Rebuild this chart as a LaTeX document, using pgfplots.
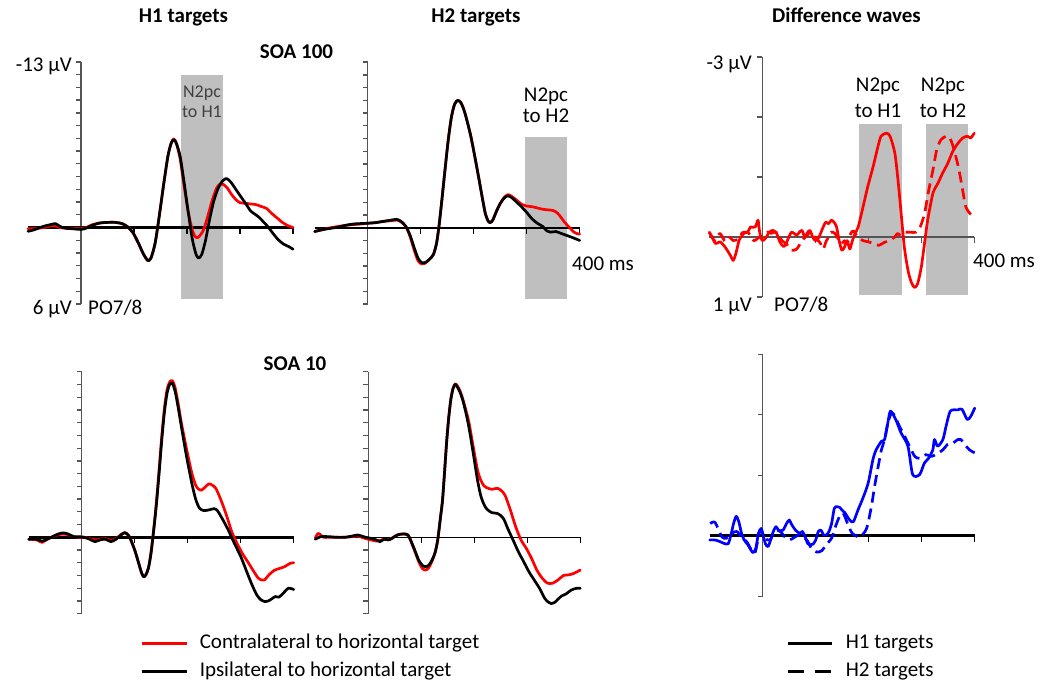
\documentclass[border=0pt]{standalone}
\usepackage{fontspec}
\setmainfont{Carlito}
\usepackage{pgfplots}
\pgfplotsset{compat=1.18}
\definecolor{shadegray}{RGB}{191,191,191}
\definecolor{axgray}{RGB}{85,85,85}
\definecolor{lblgray}{RGB}{64,64,64}
\pgfplotsset{
  erp/.style={hide axis, scale only axis, clip=false, xmin=-100, xmax=400, width=265bp, y dir=reverse, anchor=origin},
  big/.style={ymin=-13, ymax=6, height=242bp},
  diff/.style={ymin=-3, ymax=1, height=240bp},
  wave/.style={line width=2.7bp, smooth, tension=0.45, line join=round, line cap=round},
  dwave/.style={line width=2.7bp, smooth, tension=0.45, line join=round, dash pattern=on 11bp off 6bp},
}
\newcommand{\bigaxis}[1]{%
  \draw[axgray, line width=1.4bp] (axis cs:0,-13) -- (axis cs:0,6);
  \pgfplotsinvokeforeach{-13,...,6}{\draw[axgray, line width=1.3bp] (axis cs:0,##1) -- ++(-5bp,0bp);}
  \draw[black, line width=#1] (axis cs:-100,0) -- (axis cs:400,0);
  \pgfplotsinvokeforeach{100,200,300,400}{\draw[black, line width=1.3bp] (axis cs:##1,0) -- ++(0bp,-6bp);}
}
\newcommand{\diffaxis}[2]{%
  \draw[axgray, line width=1.4bp] (axis cs:0,-3) -- (axis cs:0,1);
  \pgfplotsinvokeforeach{-3,...,1}{\draw[axgray, line width=1.3bp] (axis cs:0,##1) -- ++(-5bp,0bp);}
  \draw[#2, line width=#1] (axis cs:-100,0) -- (axis cs:400,0);
  \pgfplotsinvokeforeach{100,200,300,400}{\draw[#2, line width=1.3bp] (axis cs:##1,0) -- ++(0bp,-6bp);}
}
\begin{document}
\fontsize{21bp}{25bp}\selectfont
\begin{tikzpicture}
\path[use as bounding box] (0,0) rectangle (1042bp,-683bp);

% ---------- Panel 1: H1 targets, SOA 100
\begin{axis}[erp, big, at={(81bp,-227.5bp)}]
\fill[shadegray] (axis cs:188,-11.97) rectangle (axis cs:268,5.6);
\bigaxis{2.6bp}
\addplot[red, wave] coordinates {(-100,0.1)(-90,0.1)(-80,0.05)(-70,0.0)(-60,-0.1)(-50,-0.15)(-40,0.0)(-30,0.05)(-15,0.05)(0,0.1)(10,0.0)(20,-0.2)(35,-0.35)(50,-0.4)(65,-0.4)(78,-0.3)(88,-0.05)(98,0.4)(108,1.2)(118,2.1)(126,2.55)(132,2.4)(140,1.2)(148,-1.0)(156,-3.4)(164,-5.6)(170,-6.6)(175,-6.95)(180,-6.6)(187,-5.4)(194,-3.4)(202,-1.3)(210,0.2)(216,0.75)(220,0.8)(226,0.55)(232,0.1)(240,-1.0)(248,-2.2)(256,-3.1)(262,-3.4)(268,-3.4)(276,-3.1)(284,-2.6)(292,-2.2)(300,-1.95)(310,-1.9)(320,-1.85)(330,-1.8)(340,-1.65)(350,-1.5)(360,-1.1)(370,-0.75)(380,-0.4)(390,-0.15)(400,0.0)};
\addplot[black, wave] coordinates {(-100,0.3)(-90,0.2)(-80,0.05)(-70,-0.1)(-55,-0.25)(-48,-0.3)(-40,-0.1)(-30,0.05)(-15,0.1)(0,0.15)(10,0.05)(20,-0.15)(35,-0.35)(50,-0.4)(65,-0.4)(78,-0.3)(88,-0.05)(98,0.4)(108,1.2)(118,2.1)(126,2.6)(132,2.4)(140,1.2)(148,-1.0)(156,-3.4)(164,-5.6)(170,-6.6)(175,-6.9)(180,-6.6)(187,-5.6)(194,-3.7)(202,-1.3)(210,0.9)(217,2.1)(222,2.4)(228,2.1)(235,1.0)(242,-0.5)(250,-2.0)(258,-3.0)(266,-3.6)(274,-3.85)(282,-3.6)(292,-3.0)(302,-2.4)(312,-1.8)(320,-1.3)(328,-1.05)(336,-0.8)(344,-0.45)(352,-0.1)(362,0.45)(372,0.95)(382,1.3)(392,1.5)(400,1.7)};
\end{axis}

% ---------- Panel 2: H2 targets, SOA 100
\begin{axis}[erp, big, at={(367.7bp,-227.7bp)}]
\fill[shadegray] (axis cs:296,-7.14) rectangle (axis cs:376,5.6);
\bigaxis{2.2bp}
\addplot[red, wave] coordinates {(-100,0.3)(-85,0.15)(-70,0.0)(-55,-0.1)(-40,-0.2)(-25,-0.25)(-10,-0.3)(0,-0.35)(15,-0.4)(30,-0.5)(45,-0.55)(55,-0.6)(63,-0.45)(72,-0.1)(80,0.7)(88,1.8)(95,2.6)(102,2.85)(108,2.8)(116,2.5)(124,2.1)(130,1.2)(135,-0.3)(140,-2.2)(146,-4.6)(152,-6.9)(158,-8.7)(164,-9.7)(170,-10.0)(176,-9.8)(182,-9.2)(188,-8.3)(195,-7.1)(202,-5.6)(210,-3.8)(216,-2.4)(222,-1.1)(227,-0.55)(231,-0.4)(236,-0.6)(242,-1.2)(250,-1.9)(258,-2.4)(265,-2.6)(272,-2.45)(280,-2.2)(290,-1.85)(300,-1.7)(310,-1.65)(320,-1.55)(330,-1.45)(340,-1.4)(350,-1.35)(358,-1.15)(365,-0.8)(372,-0.4)(380,-0.05)(388,0.3)(394,0.45)(400,0.5)};
\addplot[black, wave] coordinates {(-100,0.3)(-85,0.15)(-70,0.05)(-55,-0.05)(-40,-0.2)(-25,-0.3)(-10,-0.33)(0,-0.35)(15,-0.4)(30,-0.5)(45,-0.6)(55,-0.65)(63,-0.5)(72,-0.1)(80,0.6)(88,1.6)(95,2.4)(102,2.75)(108,2.75)(116,2.5)(124,2.1)(130,1.2)(135,-0.3)(140,-2.2)(146,-4.6)(152,-6.9)(158,-8.7)(164,-9.7)(170,-10.0)(176,-9.8)(182,-9.2)(188,-8.3)(195,-7.1)(202,-5.6)(210,-3.8)(216,-2.4)(222,-1.1)(227,-0.55)(231,-0.4)(236,-0.6)(242,-1.2)(250,-1.9)(258,-2.35)(265,-2.5)(272,-2.35)(280,-2.05)(290,-1.65)(300,-1.2)(310,-0.7)(320,-0.35)(330,-0.1)(338,0.25)(345,0.35)(355,0.3)(365,0.45)(375,0.6)(385,0.75)(400,1.0)};
\end{axis}

% ---------- Panel 3: Difference waves, SOA 100
\begin{axis}[erp, diff, at={(762.3bp,-237bp)}]
\fill[shadegray] (axis cs:183,-1.88) rectangle (axis cs:264,0.97);
\fill[shadegray] (axis cs:308,-1.88) rectangle (axis cs:388,0.97);
\diffaxis{1.4bp}{axgray}
\addplot[red, wave] coordinates {(-100,-0.08)(-95,0)(-88,0.11)(-80,0.08)(-70,0.17)(-60,0.31)(-55,0.39)(-50,0.28)(-44,0.06)(-40,0)(-35,-0.06)(-28,-0.08)(-22,-0.17)(-18,-0.16)(-13,-0.17)(-8,-0.28)(-5,-0.08)(0,0.06)(7,0.01)(13,-0.08)(20,-0.11)(27,-0.06)(33,0.08)(40,0.16)(45,0.11)(50,0)(55,-0.08)(60,-0.06)(65,-0.03)(70,-0.08)(75,-0.11)(80,0)(85,-0.07)(90,-0.11)(95,0)(100,0.06)(105,0.03)(110,-0.06)(115,-0.17)(120,-0.25)(125,-0.22)(130,-0.28)(135,-0.25)(140,-0.17)(145,0.06)(150,0.22)(155,0.17)(160,0.06)(165,0.2)(170,0.06)(175,-0.06)(181,-0.17)(190,-0.5)(199,-0.84)(209,-1.17)(218,-1.5)(224,-1.68)(234,-1.73)(241,-1.68)(250,-1.4)(256,-0.95)(262,-0.39)(268,0.17)(275,0.56)(281,0.75)(287,0.84)(293,0.78)(300,0.5)(306,0.11)(312,-0.28)(322,-0.73)(331,-0.89)(340,-1.06)(350,-1.23)(359,-1.42)(369,-1.56)(378,-1.65)(387,-1.68)(393,-1.65)(400,-1.73)};
\addplot[red, dwave] coordinates {(-100,-0.08)(-90,0.06)(-80,-0.06)(-70,0.08)(-62,0)(-55,0.06)(-45,0.03)(-38,-0.07)(-30,-0.08)(-25,-0.06)(-20,0.03)(-15,0.06)(-5,0)(0,-0.03)(10,-0.08)(17,-0.06)(22,-0.08)(30,-0.06)(37,0.06)(45,0.11)(55,0.22)(65,0.2)(75,0.06)(85,-0.03)(90,-0.08)(95,-0.08)(100,0)(110,0.11)(115,0.2)(120,0.08)(125,0)(130,-0.08)(137,-0.06)(145,0.06)(150,0.11)(155,0.06)(160,0.11)(167,-0.06)(172,-0.1)(180,0)(190,0.06)(200,0.08)(210,0.11)(220,0.14)(230,0.09)(240,0.06)(250,0)(255,-0.06)(260,-0.03)(265,-0.06)(270,-0.08)(280,-0.08)(290,-0.08)(298,-0.17)(306,-0.39)(314,-0.78)(322,-1.12)(329,-1.45)(337,-1.62)(347,-1.68)(354,-1.65)(362,-1.45)(371,-1.12)(378,-0.78)(384,-0.5)(392,-0.39)(400,-0.34)};
\end{axis}

% ---------- Panel 4: H1 targets, SOA 10
\begin{axis}[erp, big, at={(81.7bp,-537.3bp)}]
\bigaxis{2.6bp}
\addplot[red, wave] coordinates {(-100,0.15)(-85,0.2)(-75,0.4)(-65,0.15)(-55,-0.05)(-45,-0.2)(-35,-0.25)(-25,-0.2)(-15,-0.05)(-5,0.0)(5,0.0)(15,0.1)(25,0.2)(35,0.15)(45,0.1)(55,0.25)(65,0.1)(75,-0.25)(82,-0.35)(90,-0.05)(100,1.0)(108,2.1)(113,2.8)(117,3.1)(121,2.95)(126,2.4)(131,1.1)(136,-0.7)(141,-2.8)(146,-5.3)(151,-7.9)(156,-10.1)(161,-11.6)(166,-12.2)(171,-12.3)(176,-11.8)(182,-10.5)(188,-9.0)(198,-6.9)(208,-5.0)(215,-4.1)(220,-3.8)(226,-3.7)(233,-3.95)(240,-4.2)(246,-4.1)(253,-3.85)(263,-2.9)(273,-1.75)(283,-0.45)(293,0.47)(303,1.26)(313,1.9)(323,2.57)(333,3.2)(340,3.35)(345,3.35)(353,2.96)(363,2.6)(373,2.45)(383,2.3)(393,2.05)(400,2.0)};
\addplot[black, wave] coordinates {(-100,0.15)(-85,0.15)(-75,0.3)(-65,0.15)(-55,-0.05)(-45,-0.25)(-35,-0.35)(-25,-0.25)(-15,-0.05)(-5,-0.05)(5,0.0)(15,0.15)(25,0.34)(35,0.2)(45,0.15)(55,0.34)(65,0.15)(75,-0.2)(82,-0.37)(90,-0.05)(100,1.0)(108,2.1)(113,2.8)(117,3.1)(121,2.95)(126,2.4)(131,1.2)(136,-0.6)(141,-2.6)(146,-5.0)(151,-7.6)(156,-9.8)(161,-11.3)(166,-12.0)(171,-12.1)(176,-11.5)(182,-10.2)(188,-8.7)(198,-6.3)(208,-4.2)(215,-3.0)(222,-2.3)(230,-2.1)(240,-2.15)(250,-2.25)(256,-2.1)(262,-1.7)(270,-1.1)(278,-0.45)(288,0.47)(300,1.5)(310,2.55)(320,3.6)(330,4.5)(338,4.9)(346,5.05)(352,5.0)(358,4.85)(365,4.65)(372,4.7)(380,4.4)(390,4.0)(400,4.1)};
\end{axis}

% ---------- Panel 5: H2 targets, SOA 10
\begin{axis}[erp, big, at={(368.3bp,-537.3bp)}]
\bigaxis{1.6bp}
\addplot[red, wave] coordinates {(-100,0.05)(-95,-0.3)(-90,-0.2)(-85,0.0)(-75,0.0)(-60,0.0)(-45,0.0)(-30,-0.05)(-20,-0.1)(-5,0.1)(5,0.2)(15,0.3)(22,0.25)(30,0.15)(38,0.2)(45,0.05)(55,-0.2)(65,-0.26)(75,-0.15)(85,0.8)(95,1.9)(102,2.45)(108,2.57)(114,2.4)(120,1.9)(126,1.2)(131,0.2)(136,-1.5)(140,-2.9)(144,-5.2)(148,-7.6)(152,-9.5)(156,-10.9)(160,-11.7)(164,-12.05)(168,-11.9)(173,-11.5)(178,-10.9)(184,-10.0)(190,-9.0)(198,-7.1)(206,-5.3)(212,-4.5)(218,-4.05)(223,-3.9)(233,-3.77)(243,-3.85)(250,-3.7)(258,-3.3)(268,-2.15)(278,-0.84)(288,0.2)(298,0.86)(308,1.65)(318,2.57)(328,3.2)(338,3.6)(348,3.6)(358,3.35)(368,3.0)(378,2.95)(388,2.83)(400,2.57)};
\addplot[black, wave] coordinates {(-100,0.15)(-90,-0.05)(-75,-0.05)(-60,0.0)(-45,0.0)(-30,-0.1)(-20,-0.18)(-5,0.0)(5,0.08)(15,0.2)(22,0.34)(30,0.15)(38,0.2)(45,0.08)(55,-0.18)(65,-0.26)(75,-0.18)(85,0.73)(95,1.78)(102,2.2)(108,2.3)(114,2.2)(120,1.8)(126,1.2)(131,0.2)(136,-1.5)(140,-2.9)(144,-5.2)(148,-7.6)(152,-9.5)(156,-10.9)(160,-11.7)(164,-12.0)(168,-11.8)(173,-11.4)(178,-10.8)(184,-9.8)(190,-8.6)(198,-6.6)(206,-4.5)(212,-3.3)(218,-2.6)(224,-2.2)(233,-1.94)(243,-1.88)(250,-1.7)(256,-1.4)(263,-0.7)(273,0.2)(283,1.12)(293,1.9)(303,2.7)(313,3.35)(323,4.0)(333,4.8)(340,5.1)(345,5.2)(352,5.1)(358,4.85)(365,4.6)(373,4.45)(383,4.14)(393,4.0)(400,4.0)};
\end{axis}

% ---------- Panel 6: Difference waves, SOA 10
\begin{axis}[erp, diff, height=242bp, at={(762.7bp,-535.7bp)}]
\diffaxis{3bp}{black}
\addplot[blue, wave] coordinates {(-100,0.07)(-90,0.07)(-80,0.10)(-72,0.13)(-65,0.13)(-60,-0.01)(-55,-0.20)(-50,-0.32)(-45,-0.23)(-40,-0.04)(-35,0.07)(-28,0.15)(-22,0.24)(-18,0.28)(-13,0.21)(-8,-0.04)(-3,-0.12)(0,-0.04)(5,0.13)(10,0.18)(15,0.07)(20,-0.07)(25,-0.15)(30,-0.09)(38,-0.09)(45,-0.20)(50,-0.26)(55,-0.18)(62,-0.09)(70,-0.04)(75,-0.07)(80,0.02)(85,0.13)(90,0.15)(95,0.14)(100,0.07)(105,-0.07)(110,-0.09)(115,-0.01)(120,-0.01)(125,-0.07)(130,-0.20)(135,-0.45)(140,-0.48)(145,-0.47)(150,-0.42)(155,-0.38)(164,-0.26)(171,-0.23)(180,-0.43)(189,-0.62)(199,-0.87)(208,-1.26)(214,-1.42)(224,-1.56)(230,-1.59)(236,-1.86)(241,-2.06)(251,-1.92)(261,-1.70)(274,-1.48)(283,-1.01)(296,-1.01)(305,-1.20)(313,-1.28)(321,-1.42)(324,-1.59)(330,-1.48)(340,-1.59)(346,-1.81)(354,-2.06)(368,-2.08)(376,-2.09)(386,-1.92)(393,-1.98)(400,-2.11)};
\addplot[blue, dwave] coordinates {(-99,-0.20)(-90,-0.22)(-77,0.02)(-68,0.04)(-58,-0.04)(-49,-0.07)(-40,0.02)(-30,0.10)(-21,0.24)(-14,0.27)(-5,-0.09)(4,0.04)(14,0.07)(23,-0.09)(33,-0.07)(42,0.02)(51,0.07)(61,0.02)(70,-0.01)(83,0.07)(92,0.21)(102,0.27)(111,0.25)(120,0.15)(130,0.04)(136,-0.12)(145,-0.32)(152,-0.37)(161,-0.18)(169,-0.04)(183,0.02)(196,-0.12)(205,-0.48)(211,-0.81)(218,-1.15)(224,-1.42)(230,-1.59)(236,-1.86)(243,-2.03)(249,-1.98)(258,-1.81)(268,-1.64)(277,-1.48)(287,-1.31)(296,-1.28)(308,-1.34)(318,-1.31)(328,-1.35)(340,-1.42)(349,-1.51)(359,-1.53)(368,-1.59)(374,-1.59)(381,-1.51)(390,-1.42)(400,-1.37)};
\end{axis}

% ---------- Legends
\begin{axis}[hide axis, scale only axis, width=1bp, height=1bp, xmin=0, xmax=1, ymin=0, ymax=1,
  at={(140bp,-634bp)}, anchor=origin,
  legend style={at={(0,0)}, anchor=north west, draw=none, fill=none, inner sep=0pt, row sep=9bp, column sep=12bp,
    font=\fontsize{21bp}{25bp}\selectfont, nodes={inner sep=0pt, text height=14bp, text depth=5bp}},
  legend cell align=left,
  legend image code/.code={\draw[#1] (0bp,0bp) -- (45bp,0bp);}]
\addlegendimage{red, line width=2.6bp}
\addlegendentry{Contralateral to horizontal target}
\addlegendimage{black, line width=2.6bp}
\addlegendentry{Ipsilateral to horizontal target}
\end{axis}
\begin{axis}[hide axis, scale only axis, width=1bp, height=1bp, xmin=0, xmax=1, ymin=0, ymax=1,
  at={(786.7bp,-634bp)}, anchor=origin,
  legend style={at={(0,0)}, anchor=north west, draw=none, fill=none, inner sep=0pt, row sep=9bp, column sep=12.3bp,
    font=\fontsize{21bp}{25bp}\selectfont, nodes={inner sep=0pt, text height=14bp, text depth=5bp}},
  legend cell align=left,
  legend image code/.code={\draw[#1] (0bp,0bp) -- (44bp,0bp);}]
\addlegendimage{black, line width=2.6bp}
\addlegendentry{H1 targets}
\addlegendimage{black, line width=2.6bp, dash pattern=on 16bp off 11bp}
\addlegendentry{H2 targets}
\end{axis}

% ---------- Texts
\node[anchor=base, font=\bfseries] at (183.5bp,-22bp) {H1 targets};
\node[anchor=base, font=\bfseries] at (476bp,-22bp) {H2 targets};
\node[anchor=base, font=\bfseries] at (846.5bp,-22bp) {Difference waves};
\node[anchor=base, font=\bfseries] at (296.5bp,-58.5bp) {SOA 100};
\node[anchor=base, font=\bfseries] at (295bp,-370bp) {SOA 10};

\node[anchor=base east, inner sep=0pt] at (72bp,-71bp) {-13 µV};
\node[anchor=base east, inner sep=0pt] at (72bp,-314bp) {6 µV};
\node[anchor=base west, inner sep=0pt] at (88bp,-314bp) {PO7/8};
\node[anchor=base, inner sep=0pt, text=lblgray, font=\fontsize{18bp}{21bp}\selectfont] at (202bp,-97.5bp) {N2pc};
\node[anchor=base, inner sep=0pt, text=lblgray, font=\fontsize{18bp}{21bp}\selectfont] at (202bp,-117bp) {to H1};

\node[anchor=base, inner sep=0pt] at (546bp,-101bp) {N2pc};
\node[anchor=base, inner sep=0pt] at (546bp,-122.5bp) {to H2};
\node[anchor=base west, inner sep=0pt] at (572bp,-270bp) {400 ms};

\node[anchor=base east, inner sep=0pt] at (752bp,-69.5bp) {-3 µV};
\node[anchor=base east, inner sep=0pt] at (752bp,-311bp) {1 µV};
\node[anchor=base west, inner sep=0pt] at (774bp,-311bp) {PO7/8};
\node[anchor=base, inner sep=0pt] at (878bp,-91.7bp) {N2pc};
\node[anchor=base, inner sep=0pt] at (878bp,-117.3bp) {to H1};
\node[anchor=base, inner sep=0pt] at (943bp,-91.7bp) {N2pc};
\node[anchor=base, inner sep=0pt] at (943bp,-117.3bp) {to H2};
\node[anchor=base west, inner sep=0pt] at (973bp,-267bp) {400 ms};
\end{tikzpicture}
\end{document}
